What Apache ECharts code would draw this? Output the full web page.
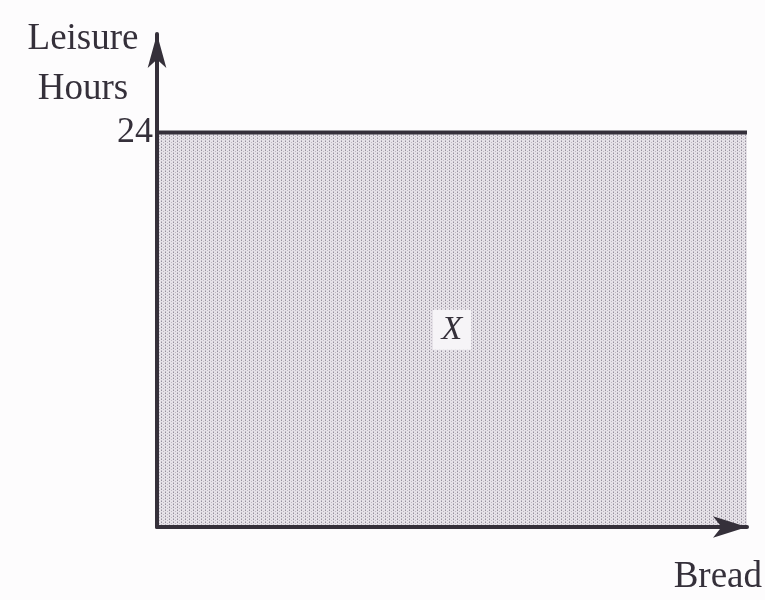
<!DOCTYPE html>
<html>
<head>
<meta charset="utf-8">
<script src="https://cdn.jsdelivr.net/npm/echarts@6/dist/echarts.min.js"></script>
<style>
  html, body { margin: 0; padding: 0; background: #fdfcfd; }
  #chart { width: 765px; height: 600px; }
</style>
</head>
<body>
<div id="chart"></div>
<script>
// budget line: leisure hours stays at 24 whatever the bread amount
const breadValues = [0, 10]
const leisureValues = [24, 24]
const yTickLabels = [24]
const regionLabel = { name: 'X', x: 5, y: 12 }

// dotted grey screen like the printed shading
function makeDots() {
  const c = document.createElement('canvas')
  c.width = 4
  c.height = 3
  const ctx = c.getContext('2d')
  ctx.fillStyle = '#e6e2e8'
  ctx.fillRect(0, 0, 4, 3)
  ctx.fillStyle = '#958f9c'
  ctx.fillRect(1, 0, 1, 1)
  ctx.fillStyle = '#bdb7c2'
  ctx.fillRect(3, 1, 1, 1)
  ctx.fillRect(1, 2, 1, 1)
  return c
}

const chart = echarts.init(document.getElementById('chart'))
const ink = '#35303a'
const serif = '"Liberation Serif", "DejaVu Serif", serif'

chart.setOption({
  animation: false,
  grid: { left: 157, right: 18, top: 34, bottom: 73 },
  xAxis: {
    type: 'value',
    min: 0,
    max: 10,
    z: 5,
    name: 'Bread',
    nameLocation: 'end',
    nameGap: 15,
    nameTextStyle: {
      fontFamily: serif, fontSize: 37, color: ink,
      align: 'right', verticalAlign: 'top', padding: [32, 0, 0, 0]
    },
    axisLine: {
      onZero: false,
      symbol: ['none', 'arrow'],
      symbolSize: [16, 34],
      lineStyle: { color: ink, width: 4 }
    },
    axisTick: { show: false },
    axisLabel: { show: false },
    splitLine: { show: false }
  },
  yAxis: {
    type: 'value',
    min: 0,
    max: 30,
    z: 5,
    name: 'Leisure\nHours',
    nameLocation: 'end',
    nameGap: 20,
    nameTextStyle: {
      fontFamily: serif, fontSize: 37, color: ink, lineHeight: 50,
      align: 'center', verticalAlign: 'top', padding: [0, 148, 0, 0]
    },
    axisLine: {
      show: true,
      onZero: false,
      symbol: ['none', 'arrow'],
      symbolSize: [14, 34],
      lineStyle: { color: ink, width: 4 }
    },
    axisTick: { show: false },
    axisLabel: {
      customValues: yTickLabels,
      fontFamily: serif, fontSize: 36, color: ink, margin: 4
    },
    splitLine: { show: false }
  },
  series: [
    {
      type: 'line',
      data: breadValues.map((b, i) => [b, leisureValues[i]]),
      symbol: 'none',
      z: 2,
      lineStyle: { color: ink, width: 4 },
      areaStyle: { color: { image: makeDots(), repeat: 'repeat' }, opacity: 1 },
      markPoint: {
        symbol: 'rect',
        symbolSize: [38, 40],
        itemStyle: { color: '#f6f4f7' },
        label: {
          show: true,
          formatter: regionLabel.name,
          fontFamily: serif, fontStyle: 'italic', fontSize: 34, color: ink
        },
        data: [{ coord: [regionLabel.x, regionLabel.y] }]
      }
    }
  ]
})
</script>
</body>
</html>
